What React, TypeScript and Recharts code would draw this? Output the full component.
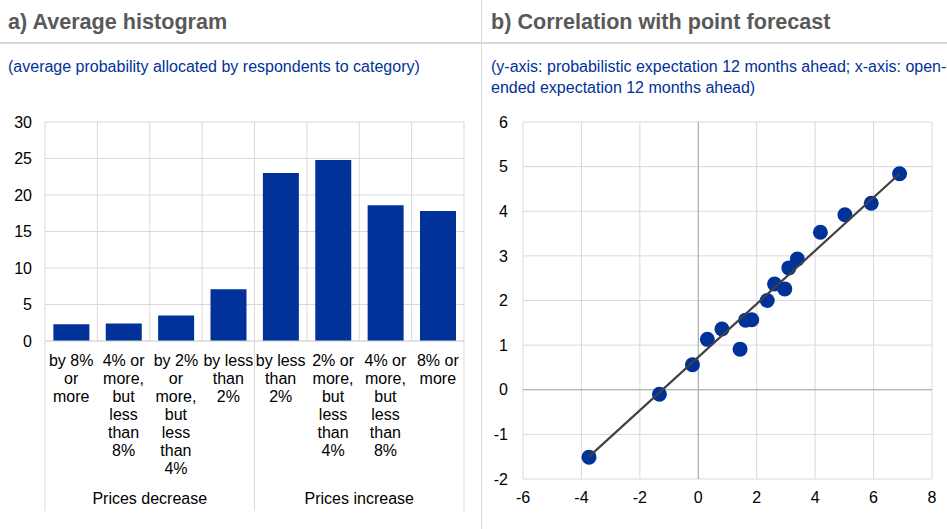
import React from 'react';
import {
  BarChart, Bar, XAxis, YAxis, CartesianGrid,
  ScatterChart, Scatter, ReferenceLine,
} from 'recharts';

// panel a) histogram
const categoryLabels = [
  'by 8%\nor\nmore',
  '4% or\nmore,\nbut\nless\nthan\n8%',
  'by 2%\nor\nmore,\nbut\nless\nthan\n4%',
  'by less\nthan\n2%',
  'by less\nthan\n2%',
  '2% or\nmore,\nbut\nless\nthan\n4%',
  '4% or\nmore,\nbut\nless\nthan\n8%',
  '8% or\nmore',
];
const probabilities = [2.3, 2.4, 3.5, 7.1, 23.0, 24.8, 18.6, 17.8];
const groupLabels = ['Prices decrease', 'Prices increase'];
const groupSize = 4;
const histTicks = [0, 5, 10, 15, 20, 25, 30];

// panel b) scatter
const openEnded = [-3.74, -1.33, -0.2, 0.31, 0.81, 1.43, 1.62, 1.83, 2.36, 2.61, 2.96, 3.1, 3.39, 4.18, 5.02, 5.92, 6.89];
const probabilistic = [-1.51, -0.1, 0.56, 1.13, 1.36, 0.91, 1.56, 1.57, 2.0, 2.37, 2.26, 2.73, 2.93, 3.53, 3.92, 4.18, 4.84];
const fitX = [-3.74, 6.89];
const fitY = [-1.5, 4.84];
const xTicks = [-6, -4, -2, 0, 2, 4, 6, 8];
const yTicks = [-2, -1, 0, 1, 2, 3, 4, 5, 6];

const BLUE = '#003299';
const GRID = '#d9d9d9';
const FONT = '"Liberation Sans", Arial, sans-serif';

const histData = categoryLabels.map((label, i) => ({ id: i, label, value: probabilities[i] }));
const pointData = openEnded.map((x, i) => ({ x, y: probabilistic[i] }));
const fitData = fitX.map((x, i) => ({ x, y: fitY[i] }));

const CategoryTick = (props: any) => {
  const { x, y, payload, index } = props;
  const half = payload?.offset ?? 26;
  const lines = categoryLabels[index].split('\n');
  const isGroupStart = index % groupSize === 0;
  const isLast = index === categoryLabels.length - 1;
  const top = y - 8;
  const bottom = y + 162;
  return (
    <g>
      <text x={x} y={y + 17} textAnchor="middle" fontSize={16} fill="#000" fontFamily={FONT}>
        {lines.map((l, i) => (
          <tspan key={i} x={x} dy={i === 0 ? 0 : 18}>{l}</tspan>
        ))}
      </text>
      {isGroupStart && <line x1={x - half} x2={x - half} y1={top} y2={bottom} stroke={GRID} />}
      {isLast && <line x1={x + half} x2={x + half} y1={top} y2={bottom} stroke={GRID} />}
      {isGroupStart && (
        <text x={x - half + groupSize * half} y={y + 155} textAnchor="middle" fontSize={16} fill="#000" fontFamily={FONT}>
          {groupLabels[Math.floor(index / groupSize)]}
        </text>
      )}
    </g>
  );
};

const bandLines = ({ offset }: any) =>
  categoryLabels.map((_, i) => offset.left + (i * offset.width) / categoryLabels.length)
    .concat(offset.left + offset.width);

const tickStyle = { fontSize: 16, fill: '#000', fontFamily: FONT };

const titleStyle: React.CSSProperties = {
  position: 'absolute', top: 10, fontSize: 21.6, fontWeight: 'bold', color: '#595959', lineHeight: '24px', whiteSpace: 'nowrap',
};
const subStyle: React.CSSProperties = {
  position: 'absolute', top: 56, fontSize: 16, color: BLUE, lineHeight: '21px', whiteSpace: 'nowrap',
};

export default function App() {
  return (
    <div style={{ position: 'absolute', left: 0, top: 0, width: 947, height: 529, background: '#fff', fontFamily: FONT, overflow: 'hidden' }}>
      <div style={{ ...titleStyle, left: 8 }}>a) Average histogram</div>
      <div style={{ ...titleStyle, left: 491 }}>b) Correlation with point forecast</div>
      <div style={{ position: 'absolute', left: 0, top: 42, width: 947, height: 2, background: GRID }} />
      <div style={{ position: 'absolute', left: 481, top: 0, width: 1, height: 529, background: GRID }} />
      <div style={{ ...subStyle, left: 8 }}>(average probability allocated by respondents to category)</div>
      <div style={{ ...subStyle, left: 491 }}>
        (y-axis: probabilistic expectation 12 months ahead; x-axis: open-<br />ended expectation 12 months ahead)
      </div>

      <div style={{ position: 'absolute', left: 0, top: 100 }}>
        <BarChart width={480} height={420} data={histData} margin={{ top: 22, right: 16, left: 10, bottom: 0 }} barCategoryGap="16%">
          <CartesianGrid stroke={GRID} verticalCoordinatesGenerator={bandLines} />
          <XAxis dataKey="id" type="category" interval={0} height={179} axisLine={{ stroke: GRID }} tickLine={false} tick={<CategoryTick />} />
          <YAxis domain={[0, 30]} ticks={histTicks} width={35} axisLine={false} tickLine={false} tickMargin={7} tick={tickStyle} />
          <Bar dataKey="value" fill={BLUE} isAnimationActive={false} />
        </BarChart>
      </div>

      <div style={{ position: 'absolute', left: 482, top: 100 }}>
        <ScatterChart width={465} height={429} margin={{ top: 22, right: 15, left: 11, bottom: 20 }}>
          <CartesianGrid stroke={GRID} />
          <XAxis type="number" dataKey="x" domain={[-6, 8]} ticks={xTicks} height={30} axisLine={false} tickLine={false} tickMargin={7} tick={tickStyle} />
          <YAxis type="number" dataKey="y" domain={[-2, 6]} ticks={yTicks} width={30} axisLine={false} tickLine={false} tickMargin={9} tick={tickStyle} />
          <ReferenceLine x={0} stroke="#a6a6a6" />
          <ReferenceLine y={0} stroke="#a6a6a6" />
          <Scatter data={pointData} fill={BLUE} isAnimationActive={false}
            shape={(p: any) => <circle cx={p.cx} cy={p.cy} r={7.5} fill={BLUE} />} />
          <Scatter data={fitData} isAnimationActive={false} line={{ stroke: '#404040', strokeWidth: 2.2 }}
            shape={() => <g />} />
        </ScatterChart>
      </div>
    </div>
  );
}
